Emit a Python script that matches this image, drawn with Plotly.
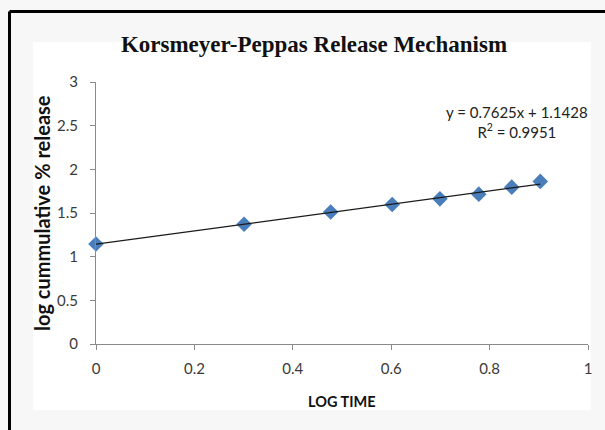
import plotly.graph_objects as go

# Release data: log of time (h) vs log of cumulative % drug released
log_time = [0.0, 0.301, 0.477, 0.602, 0.699, 0.778, 0.845, 0.903]
log_release = [1.145, 1.372, 1.512, 1.598, 1.662, 1.716, 1.796, 1.862]

# Linear fit reported on the chart
slope = 0.7625
intercept = 1.1428
r_squared = 0.9951

x_ticks = [0, 0.2, 0.4, 0.6, 0.8, 1]
y_ticks = [0, 0.5, 1, 1.5, 2, 2.5, 3]

fit_x = [min(log_time), max(log_time)]
fit_y = [slope * v + intercept for v in fit_x]

# plot-area geometry in pixels, used to place frame pieces in paper units
L, R, T, B = 96, 588, 82, 344
W, H = R - L, B - T


def px(x):
    return (x - L) / W


def py(y):
    return (B - y) / H


fig = go.Figure()
fig.add_trace(go.Scatter(
    x=log_time, y=log_release, mode="markers",
    marker=dict(symbol="diamond", size=12, color="#4a7ebb",
                line=dict(width=0)),
    showlegend=False, cliponaxis=False,
))
fig.add_trace(go.Scatter(
    x=fit_x, y=fit_y, mode="lines",
    line=dict(color="#1a1a1a", width=1.3),
    showlegend=False, cliponaxis=False,
))

sans = "Lato, Open Sans, sans-serif"
tick_font = dict(family=sans, size=15, color="#3a3a3a")

fig.update_layout(
    width=605, height=430,
    margin=dict(l=L, r=605 - R, t=T, b=430 - B),
    paper_bgcolor="#f7f7f7", plot_bgcolor="white",
    title=dict(
        text="<b>Korsmeyer-Peppas Release Mechanism</b>",
        font=dict(family="Liberation Serif, Times New Roman, serif", size=23, color="#111"),
        x=314 / 605, xanchor="center", xref="container",
        y=1 - 44 / 430, yanchor="middle", yref="container",
    ),
    xaxis=dict(
        range=[0, 1], tickvals=x_ticks, ticktext=[f"{v:g}" for v in x_ticks],
        showgrid=False, zeroline=False, showline=True, linecolor="#8a8a8a", linewidth=1,
        ticks="outside", ticklen=5, tickcolor="#8a8a8a", tickfont=tick_font,
        ticklabelstandoff=6,
    ),
    yaxis=dict(
        range=[0, 3], tickvals=y_ticks, ticktext=[f"{v:g}" for v in y_ticks],
        showgrid=False, zeroline=False, showline=True, linecolor="#8a8a8a", linewidth=1,
        ticks="outside", ticklen=5, tickcolor="#8a8a8a", tickfont=tick_font,
        ticklabelstandoff=9,
    ),
    annotations=[
        dict(x=0.855, y=2.54, xref="x", yref="y",
             text=f"y = {slope}x + {intercept}<br>R<sup>2</sup> = {r_squared}",
             showarrow=False, align="center",
             font=dict(family=sans, size=15, color="#222")),
        dict(x=0.5, y=py(401), xref="paper", yref="paper",
             text="<b>LOG TIME</b>", showarrow=False,
             xanchor="center", yanchor="middle",
             font=dict(family=sans, size=14.5, color="#111")),
        dict(x=px(42), y=0.5, xref="paper", yref="paper",
             text="<b>log cummulative % release</b>", showarrow=False,
             textangle=-90, xanchor="center", yanchor="middle",
             font=dict(family=sans, size=20, color="#111")),
    ],
    shapes=[
        # white chart panel inside the frame
        dict(type="rect", xref="paper", yref="paper", layer="below",
             x0=px(33), x1=px(591), y0=py(42), y1=py(410),
             fillcolor="white", line=dict(width=0)),
        # frame edges around the chart
        dict(type="line", xref="paper", yref="paper",
             x0=px(9.5), x1=px(606), y0=py(11.5), y1=py(11.5),
             line=dict(color="black", width=3)),
        dict(type="line", xref="paper", yref="paper",
             x0=px(9.5), x1=px(9.5), y0=py(11.5), y1=py(431),
             line=dict(color="black", width=3)),
    ],
)

fig.write_html("out.html")
